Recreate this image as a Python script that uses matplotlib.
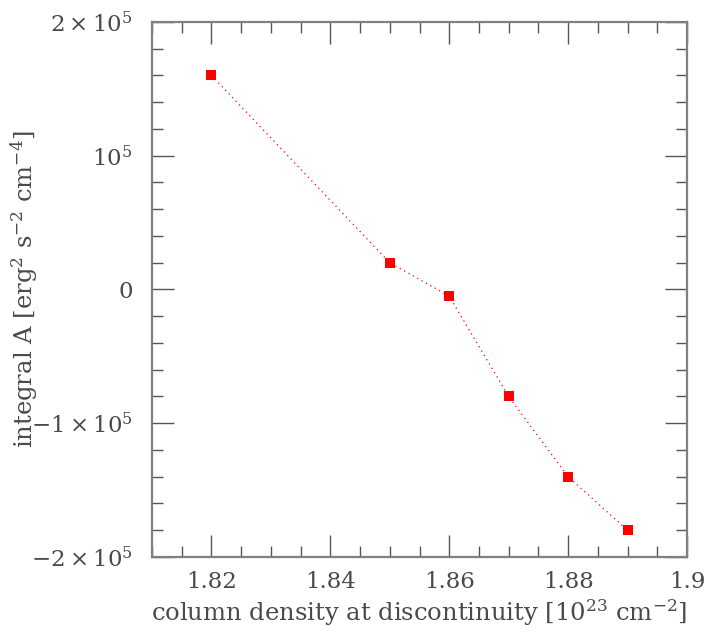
import matplotlib
matplotlib.use("Agg")
import matplotlib.pyplot as plt
from matplotlib.ticker import MultipleLocator, FixedLocator

# values
column_density = [1.82, 1.85, 1.86, 1.87, 1.88, 1.89]
integral_a     = [160000, 20000, -5000, -80000, -140000, -180000]

x_ticks  = [1.82, 1.84, 1.86, 1.88, 1.90]
x_labels = ["1.82", "1.84", "1.86", "1.88", "1.9"]
y_ticks  = [-200000, -100000, 0, 100000, 200000]
y_labels = [r"$-2\times10^{5}$", r"$-1\times10^{5}$", r"$0$", r"$10^{5}$", r"$2\times10^{5}$"]

plt.rcParams["mathtext.fontset"] = "dejavuserif"
plt.rcParams["font.family"] = "DejaVu Serif"

text_col = "#4a4a4a"
axis_col = "#808080"

fig = plt.figure(figsize=(7.16, 6.32), dpi=100)
ax = fig.add_axes([0.2123, 0.1187, 0.7472, 0.8465])

ax.plot(column_density, integral_a, color="red", linestyle=(0, (1, 3)), linewidth=0.9)
ax.plot(column_density, integral_a, linestyle="none", marker="s", markersize=7,
        color="red", markeredgewidth=0)

ax.set_xlim(1.81, 1.90)
ax.set_ylim(-200000, 200000)

ax.xaxis.set_major_locator(FixedLocator(x_ticks))
ax.set_xticklabels(x_labels)
ax.xaxis.set_minor_locator(MultipleLocator(0.005))
ax.yaxis.set_major_locator(FixedLocator(y_ticks))
ax.set_yticklabels(y_labels)
ax.yaxis.set_minor_locator(MultipleLocator(20000))

ax.tick_params(which="both", direction="in", top=True, right=True,
               color="#555555", labelcolor=text_col, labelsize=16.5, width=1.0)
ax.tick_params(which="major", length=16, pad=10)
ax.tick_params(which="minor", length=8)
ax.tick_params(axis="y", which="major", pad=14)

for sp in ax.spines.values():
    sp.set_color(axis_col)
    sp.set_linewidth(1.6)

ax.set_xlabel(r"column density at discontinuity [10$^{23}$ cm$^{-2}$]",
              fontsize=17.5, color=text_col, labelpad=3)
ax.set_ylabel(r"integral A [erg$^{2}$ s$^{-2}$ cm$^{-4}$]",
              fontsize=17.5, color=text_col)
ax.yaxis.set_label_coords(-0.21, 0.5)

fig.savefig("out.png", dpi=100)
